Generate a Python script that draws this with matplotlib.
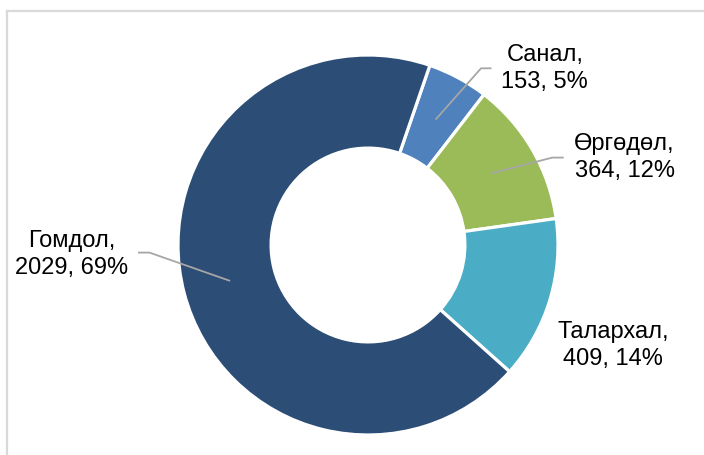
import numpy as np
import matplotlib.pyplot as plt
from matplotlib.lines import Line2D

plt.rcParams['font.family'] = ['Liberation Sans', 'DejaVu Sans']

# data (clockwise from the top)
categories = ['Санал', 'Өргөдөл', 'Талархал', 'Гомдол']
values = [153, 364, 409, 2029]
percents = ['5%', '12%', '14%', '69%']
colors = ['#4F81BD', '#9BBB59', '#4BACC6', '#2C4D75']

# label centres and leader elbows (axes data units, radius = 1)
label_pos = [(0.93, 0.93), (1.35, 0.46), (1.29, -0.53), (-1.56, -0.05)]
elbows = [(0.595, 0.93), (0.97, 0.46), None, (-1.15, -0.04)]
ends = [(0.65, 0.93), (1.03, 0.46), None, (-1.21, -0.04)]

W, H = 704, 455
cx, cy, r = 368, 245, 190

fig = plt.figure(figsize=(W / 100, H / 100), dpi=100)
ax = fig.add_axes([(cx - r) / W, (H - cy - r) / H, 2 * r / W, 2 * r / H])

start = 90 - 19
wedges, _ = ax.pie(values, colors=colors, startangle=start, counterclock=False,
                   radius=1, wedgeprops=dict(width=0.49, edgecolor='white', linewidth=2.3))
ax.set_xlim(-1, 1)
ax.set_ylim(-1, 1)
ax.set_aspect('equal')
ax.axis('off')

total = sum(values)
cum = 0
for i, v in enumerate(values):
    mid = start - (cum + v / 2) / total * 360
    cum += v
    ang = np.deg2rad(mid)
    text = f"{categories[i]},\n{v}, {percents[i]}"
    ax.text(label_pos[i][0], label_pos[i][1], text, ha='center', va='center',
            fontsize=17, color='black', linespacing=1.3, clip_on=False)
    if elbows[i] is not None:
        sx, sy = 0.75 * np.cos(ang), 0.75 * np.sin(ang)
        ax.plot([sx, elbows[i][0], ends[i][0]], [sy, elbows[i][1], ends[i][1]],
                color='#A6A6A6', lw=1.3, clip_on=False, solid_capstyle='butt')

# chart area border (only top and left visible)
fig.add_artist(Line2D([6.5 / W, 6.5 / W], [0, 1 - 11 / H], transform=fig.transFigure,
                      color='#D9D9D9', lw=1.6))
fig.add_artist(Line2D([6.5 / W, 1], [1 - 11 / H, 1 - 11 / H], transform=fig.transFigure,
                      color='#D9D9D9', lw=1.6))

fig.savefig('out.png', dpi=100)
